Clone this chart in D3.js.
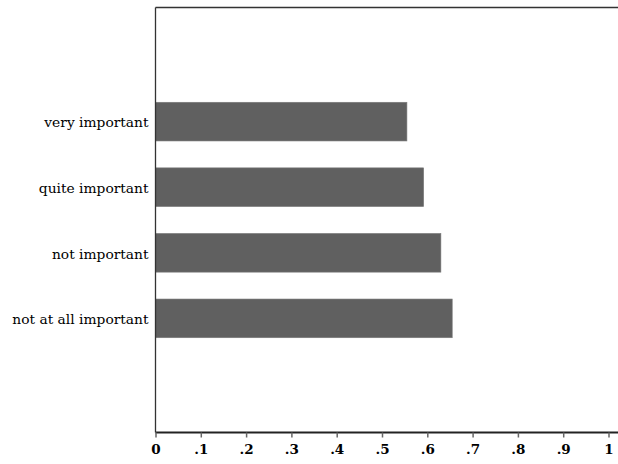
<!DOCTYPE html>
<html><head><meta charset="utf-8">
<script src="https://cdn.jsdelivr.net/npm/d3@7"></script>
<style>body{margin:0;background:#fff}</style>
</head><body>
<svg id="c" width="618" height="464"></svg>
<script>
const categories = ["very important","quite important","not important","not at all important"];
const values = [0.555, 0.592, 0.630, 0.655];
const tickValues = [0,0.1,0.2,0.3,0.4,0.5,0.6,0.7,0.8,0.9,1];
const tickLabels = ["0",".1",".2",".3",".4",".5",".6",".7",".8",".9","1"];

(function(){
const svg = d3.select("#c");
const pL = 155.5, pR = 618, pT = 7.5, pB = 432.5;
const x = d3.scaleLinear().domain([0,1]).range([pL, 608.5]);
const y = d3.scaleBand().domain(categories).range([pT, pB]).paddingInner(0.41).paddingOuter(1.445);

svg.append("g").selectAll("rect").data(categories).join("rect")
  .attr("x", x(0)).attr("y", d => y(d))
  .attr("width", (d,i) => x(values[i]) - x(0)).attr("height", y.bandwidth())
  .attr("fill", "#606060").attr("stroke","#7a7a7a").attr("stroke-width",0.6);

svg.append("line").attr("x1", pL).attr("x2", pR).attr("y1", pT).attr("y2", pT)
  .attr("stroke", "#333").attr("stroke-width", 1.3);
svg.append("line").attr("x1", pL).attr("x2", pL).attr("y1", pT).attr("y2", pB)
  .attr("stroke", "#333").attr("stroke-width", 1.3);

const xa = svg.append("g").attr("transform", `translate(0,${pB})`)
  .call(d3.axisBottom(x).tickValues(tickValues).tickFormat((d,i)=>tickLabels[i]).tickSize(5).tickPadding(7).tickSizeOuter(0));
xa.select(".domain").attr("d", `M${pL},0H${pR}`).attr("stroke","#222").attr("stroke-width",2);
xa.selectAll(".tick line").attr("stroke","#666").attr("stroke-width",1.5);
xa.selectAll("text").attr("font-family","DejaVu Serif").attr("font-weight","bold").attr("font-size",13.5).attr("fill","#000");

svg.append("g").selectAll("text").data(categories).join("text")
  .attr("x", pL - 7).attr("y", d => y(d) + y.bandwidth()/2).attr("dy","0.42em")
  .attr("text-anchor","end").attr("font-family","DejaVu Serif").attr("font-size",13.8).attr("fill","#000")
  .text(d => d);
})();
</script>
</body></html>
